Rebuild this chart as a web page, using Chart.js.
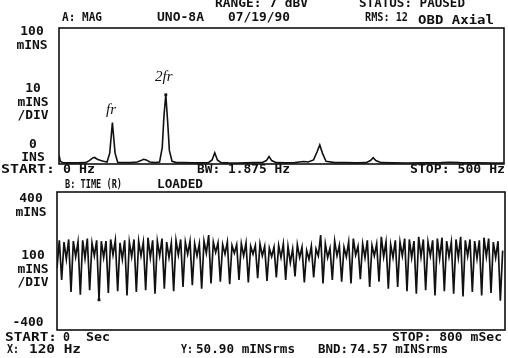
<!DOCTYPE html>
<html>
<head>
<meta charset="utf-8">
<script src="https://cdn.jsdelivr.net/npm/chart.js@4"></script>
<style>
  html, body { margin: 0; padding: 0; background: #fff; }
  #wrap { position: relative; width: 508px; height: 358px; overflow: hidden; }
  canvas { position: absolute; left: 0; top: 0; }
</style>
</head>
<body>
<div id="wrap">
  <canvas id="spec" width="508" height="358"></canvas>
  <canvas id="time" width="508" height="358"></canvas>
</div>
<script>
// A: MAG spectrum, frequency (Hz) and amplitude (mINS)
const specHz = [0, 1.5, 4, 10, 20, 30, 34, 38, 40, 43, 47, 50, 54, 57, 60, 63, 66, 72, 80, 88,
  92, 95, 98, 102, 108, 113, 116, 118, 120, 122, 124, 127, 132, 140, 150, 160, 168, 172, 175, 178,
  182, 190, 200, 210, 220, 228, 233, 236, 239, 244, 255, 265, 270, 275, 280, 286, 290, 293, 296, 300,
  310, 320, 335, 345, 350, 353, 356, 362, 375, 390, 410, 430, 440, 450, 470, 490, 500];
const specAmp = [6.5, 2, 1, 0.8, 0.8, 1, 2.5, 4.5, 4.8, 3.5, 2.5, 2, 1.5, 8, 30.4, 8, 1.2, 1, 1, 1.5,
  2.5, 3.5, 3, 1.5, 1, 1.5, 12, 36, 50.9, 32, 10, 2, 1, 1, 0.8, 0.8, 1, 3, 8.3, 3,
  1, 0.8, 0.7, 0.8, 1, 1, 2.5, 5.5, 2.5, 1, 0.8, 1, 1.5, 1.8, 1.5, 3, 9, 14, 8, 2,
  1, 1, 0.8, 1, 2.5, 4.6, 2.5, 1, 0.8, 0.7, 0.8, 1, 1.3, 1, 0.8, 0.7, 0.7];
const cursorHz = 120;

// B: TIME waveform, 192 samples over 800 ms (mINS)
const timeSpanMs = 800;
const timeWave = [
  -40, 120, -110, 110,  10, 125, -180, 115,  25, 110, -195, 120,  15, 130, -170, 105,
  30, 120, -225, 115,  20, 115, -185, 125,  35, 120, -175, 105,  10, 120, -200, 110,
  25, 125, -180, 115,  30, 110, -170, 135,  20, 120, -190, 115,  30, 130, -160, 110,
  20, 105, -175, 120,  35, 125, -150, 110,  40, 115, -140, 100,  30, 100, -160, 115,
  45, 150, -130, 110,  50, 105, -120, 95,  40, 110, -135, 90,  45, 95, -110, 100,
  30, 105, -125, 85,  40, 90, -100, 100,  30, 85, -115, 75,  25, 80, -95, 90,
  20, 100, -110, 85,  -10, 70, -90, 95,  20, 80, -125, 60,  10, 85, -95, 70,
  30, 150, -130, 100,  20, 75, -110, 115,  30, 90, -120, 80,  25, 110, -130, 130,
  35, 85, -105, 100,  20, 120, -150, 90,  30, 100, -120, 140,  25, 110, -160, 95,
  20, 120, -150, 110,  30, 130, -175, 125,  20, 115, -190, 140,  25, 125, -170, 110,
  30, 120, -200, 130,  15, 135, -175, 115,  25, 110, -190, 125,  20, 140, -205, 120,
  30, 125, -180, 115,  15, 120, -200, 135,  25, 130, -185, 110,  20, 115, -230, 60
];
const timeCursorIdx = 18;

// left-hand scale annotations
const specYLabels = [['100', 'mINS'], ['10', 'mINS', '/DIV'], ['0', 'INS']];
const timeYLabels = [['400', 'mINS'], ['100', 'mINS', '/DIV'], ['-400']];

const INK = '#111';
const MONO = 'bold 12px "DejaVu Sans Mono"';

// draw text, optionally squeezed/stretched to a given width
function put(ctx, str, x, y, w, font) {
  ctx.save();
  ctx.font = font || MONO;
  ctx.fillStyle = INK;
  ctx.textBaseline = 'middle';
  ctx.textAlign = 'left';
  const m = ctx.measureText(str).width;
  ctx.translate(x, y);
  if (w) ctx.scale(w / m, 1);
  ctx.fillText(str, 0, 0);
  ctx.restore();
}

function stack(ctx, lines, cx, y0, step) {
  ctx.font = MONO;
  lines.forEach((s, i) => {
    const w = ctx.measureText(s).width * 1.08;
    put(ctx, s, cx - w / 2, y0 + i * step, w);
  });
}

const frame = {
  id: 'frame',
  afterDatasetsDraw(chart) {
    const { ctx, chartArea: a } = chart;
    ctx.save();
    ctx.strokeStyle = INK;
    ctx.lineWidth = 1.6;
    ctx.strokeRect(a.left, a.top, a.right - a.left, a.bottom - a.top);
    ctx.restore();
  }
};

const specText = {
  id: 'specText',
  afterDraw(chart) {
    const ctx = chart.ctx;
    put(ctx, 'RANGE: 7 dBV', 215, 4, 93);
    put(ctx, 'STATUS: PAUSED', 359, 4, 106);
    put(ctx, 'A: MAG', 62, 18, 40);
    put(ctx, 'UNO-8A', 157, 18, 47);
    put(ctx, '07/19/90', 228, 18, 62);
    put(ctx, 'RMS: 12', 365, 18, 43);
    put(ctx, 'OBD Axial', 418, 21, 76);
    stack(ctx, specYLabels[0], 32, 32, 13.5);
    stack(ctx, specYLabels[1], 33, 89, 13.5);
    stack(ctx, specYLabels[2], 33, 145, 12.5);
    put(ctx, 'START:', 1, 170, 54);
    put(ctx, '0 Hz', 63, 170, 32);
    put(ctx, 'BW: 1.875 Hz', 197, 170, 93);
    put(ctx, 'STOP: 500 Hz', 410, 170, 95);
    put(ctx, 'B: TIME (R)', 65, 185, 57);
    put(ctx, 'LOADED', 157, 185, 46);
    put(ctx, 'fr', 106, 110, null, 'italic 15px "Liberation Serif"');
    put(ctx, '2fr', 155, 77, null, 'italic 15px "Liberation Serif"');
  }
};

const timeText = {
  id: 'timeText',
  afterDraw(chart) {
    const ctx = chart.ctx;
    stack(ctx, timeYLabels[0], 31, 199, 13.5);
    stack(ctx, timeYLabels[1], 33, 256, 13.5);
    stack(ctx, timeYLabels[2], 28, 323, 13.5);
    put(ctx, 'START:', 5, 338, 52);
    put(ctx, '0', 63, 338, 7);
    put(ctx, 'Sec', 86, 338, 24);
    put(ctx, 'STOP: 800 mSec', 392, 338, 110);
    put(ctx, 'X:', 7, 350, 12);
    put(ctx, '120 Hz', 29, 350, 52);
    put(ctx, 'Y:', 181, 350, 12);
    put(ctx, '50.90 mINSrms', 196, 350, 99);
    put(ctx, 'BND:', 318, 350, 30);
    put(ctx, '74.57 mINSrms', 350, 350, 98);
  }
};

const common = {
  responsive: false,
  animation: false,
  events: [],
  plugins: { legend: { display: false }, tooltip: { enabled: false } },
  elements: { line: { tension: 0 } }
};

new Chart(document.getElementById('spec'), {
  type: 'line',
  data: {
    datasets: [{
      data: specHz.map((f, i) => ({ x: f, y: specAmp[i] })),
      borderColor: INK,
      borderWidth: 1.6,
      pointStyle: 'rect',
      pointBackgroundColor: INK,
      pointBorderWidth: 0,
      pointRadius: ctx => (specHz[ctx.dataIndex] === cursorHz ? 2 : 0)
    }]
  },
  options: {
    ...common,
    layout: { padding: { left: 59, right: 4, top: 28, bottom: 194 } },
    scales: {
      x: { type: 'linear', min: 0, max: 500, display: false },
      y: { type: 'linear', min: 0, max: 100, display: false }
    }
  },
  plugins: [frame, specText]
});

new Chart(document.getElementById('time'), {
  type: 'line',
  data: {
    datasets: [{
      data: timeWave.map((v, i) => ({ x: i * timeSpanMs / timeWave.length, y: v })),
      borderColor: INK,
      borderWidth: 1.7,
      pointStyle: 'rect',
      pointBackgroundColor: INK,
      pointBorderWidth: 0,
      pointRadius: ctx => (ctx.dataIndex === timeCursorIdx ? 2 : 0)
    }]
  },
  options: {
    ...common,
    layout: { padding: { left: 57, right: 3, top: 192, bottom: 28 } },
    scales: {
      x: { type: 'linear', min: 0, max: timeSpanMs, display: false },
      y: { type: 'linear', min: -400, max: 400, display: false }
    }
  },
  plugins: [frame, timeText]
});
</script>
</body>
</html>
